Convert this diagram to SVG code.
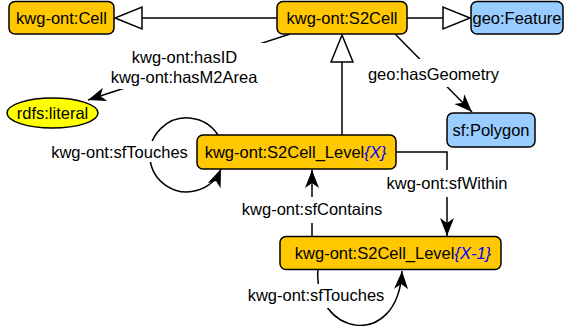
<svg xmlns="http://www.w3.org/2000/svg" width="564" height="326" viewBox="0 0 564 326">
  <defs>
    <style>
      text { font-family: "Liberation Sans", Arial, sans-serif; font-size: 16.5px; fill: #000; }
      .lbl { text-anchor: middle; }
      .node { stroke: #000; stroke-width: 1.5; }
      .cls { fill: #FFC800; }
      .ext { fill: #99CCFF; }
      .lit { fill: #FFFF00; }
      .edge { fill: none; stroke: #000; stroke-width: 1.5; }
      .bg { fill: #fff; }
      .var { fill: #0000FF; font-style: italic; }
    </style>
    <!-- filled arrowhead with concave back -->
    <marker id="arrow" markerUnits="userSpaceOnUse" viewBox="-20 -9 21 18" markerWidth="21" markerHeight="18" refX="0" refY="0" orient="auto">
      <path d="M0,0 L-18,-7 L-13,0 L-18,7 Z" fill="#000"/>
    </marker>
    <!-- hollow triangle for subclass links -->
    <marker id="inherit" markerUnits="userSpaceOnUse" viewBox="-29 -13 31 26" markerWidth="31" markerHeight="26" refX="0" refY="0" orient="auto">
      <path d="M0,0 L-27,-11 L-27,11 Z" fill="#fff" stroke="#000" stroke-width="1.5"/>
    </marker>
  </defs>

  <g id="connectors">
    <!-- subclass links -->
    <path class="edge" d="M277,18 H115" marker-end="url(#inherit)"/>
    <path class="edge" d="M407,18 H470" marker-end="url(#inherit)"/>
    <path class="edge" d="M342,135 V35" marker-end="url(#inherit)"/>

    <!-- hasID / hasM2Area -->
    <path class="edge" d="M290,34 L88,100" marker-end="url(#arrow)"/>
    <rect class="bg" x="105" y="43" width="160" height="46"/>
    <text class="lbl" x="184.5" y="63">kwg-ont:hasID</text>
    <text class="lbl" x="184" y="83">kwg-ont:hasM2Area</text>

    <!-- hasGeometry -->
    <path class="edge" d="M395,34 L472,112" marker-end="url(#arrow)"/>
    <rect class="bg" x="362" y="59" width="143" height="28"/>
    <text class="lbl" x="433.5" y="80">geo:hasGeometry</text>

    <!-- sfWithin -->
    <path class="edge" d="M396,152 H447 V236" marker-end="url(#arrow)"/>
    <rect class="bg" x="383" y="170" width="128" height="27"/>
    <text class="lbl" x="447" y="189">kwg-ont:sfWithin</text>

    <!-- sfContains -->
    <path class="edge" d="M312,237 V170" marker-end="url(#arrow)"/>
    <rect class="bg" x="239" y="197" width="147" height="26"/>
    <text class="lbl" x="312" y="215">kwg-ont:sfContains</text>

    <!-- sfTouches loop on Level X -->
    <path class="edge" d="M218,135 A37,37 0 1 0 221,169" marker-end="url(#arrow)"/>
    <rect class="bg" x="47" y="141" width="145" height="21"/>
    <text class="lbl" x="119.5" y="158">kwg-ont:sfTouches</text>

    <!-- sfTouches loop on Level X-1 -->
    <path class="edge" d="M318,269 C312,335 398,352 402,271" marker-end="url(#arrow)"/>
    <rect class="bg" x="244" y="284" width="145" height="24"/>
    <text class="lbl" x="316" y="301">kwg-ont:sfTouches</text>
  </g>

  <g id="cell">
    <rect class="node cls" x="9" y="1.5" width="105" height="32.5" rx="6"/>
    <text class="lbl" x="61.5" y="24">kwg-ont:Cell</text>
  </g>
  <g id="s2cell">
    <rect class="node cls" x="277" y="1.5" width="130" height="32.5" rx="6"/>
    <text class="lbl" x="342" y="24">kwg-ont:S2Cell</text>
  </g>
  <g id="feature">
    <rect class="node ext" x="471" y="1.5" width="92" height="32.5" rx="6"/>
    <text class="lbl" x="517" y="24">geo:Feature</text>
  </g>
  <g id="literal">
    <ellipse class="node lit" cx="52.5" cy="113" rx="45.5" ry="15"/>
    <text class="lbl" x="52.5" y="119">rdfs:literal</text>
  </g>
  <g id="polygon">
    <rect class="node ext" x="447" y="113" width="88" height="34" rx="6"/>
    <text class="lbl" x="491" y="136">sf:Polygon</text>
  </g>
  <g id="level-x">
    <rect class="node cls" x="197" y="135" width="199" height="34" rx="6"/>
    <text class="lbl" x="295.5" y="158">kwg-ont:S2Cell_Level<tspan class="var">{X}</tspan></text>
  </g>
  <g id="level-x-1">
    <rect class="node cls" x="280" y="236.5" width="221" height="33" rx="6"/>
    <text class="lbl" x="393" y="259">kwg-ont:S2Cell_Level<tspan class="var">{X-1}</tspan></text>
  </g>
</svg>
